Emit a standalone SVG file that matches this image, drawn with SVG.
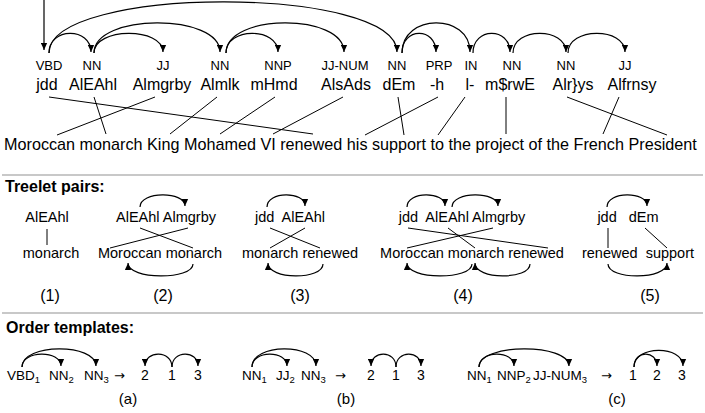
<svg xmlns="http://www.w3.org/2000/svg" width="705" height="413" viewBox="0 0 705 413">
<defs>
<style>
text{font-family:"Liberation Sans",Arial,Helvetica,sans-serif;fill:#000}
.tag{font-size:13px;text-anchor:middle}
.w{font-size:16px;text-anchor:middle}
.sent{font-size:16.2px}
.hd{font-size:16px;font-weight:bold}
.tw{font-size:14.5px;text-anchor:middle}
.lb{font-size:16px;text-anchor:middle}
.tp{font-size:13.5px}
.sb{font-size:9.5px}
.ar{font-family:"DejaVu Sans",sans-serif;font-size:13px}
.num{font-size:14px;text-anchor:middle}
.lbs{font-size:15px;text-anchor:middle}
.arc{fill:none;stroke:#000;stroke-width:1.2;marker-end:url(#ah)}
.ln{fill:none;stroke:#000;stroke-width:1}
.sep{stroke:#c8c8c8;stroke-width:2}
</style>
<marker id="ah" viewBox="0 0 10 10" refX="10" refY="5" markerWidth="8" markerHeight="7" orient="auto" markerUnits="userSpaceOnUse">
<path d="M0,0.5 L10,5 L0,9.5 z" fill="#000"/>
</marker>
</defs>
<rect width="705" height="413" fill="#fff"/>

<g id="tokens">
<g id="w-jdd"><text class="tag" x="49" y="70">VBD</text><text class="w" x="47" y="90">jdd</text></g>
<g id="w-AlEAhl"><text class="tag" x="92" y="70">NN</text><text class="w" x="93" y="90">AlEAhl</text></g>
<g id="w-Almgrby"><text class="tag" x="163" y="70">JJ</text><text class="w" x="162" y="90">Almgrby</text></g>
<g id="w-Almlk"><text class="tag" x="220" y="70">NN</text><text class="w" x="220" y="90">Almlk</text></g>
<g id="w-mHmd"><text class="tag" x="278" y="70">NNP</text><text class="w" x="274" y="90">mHmd</text></g>
<g id="w-AlsAds"><text class="tag" x="345" y="70">JJ-NUM</text><text class="w" x="346" y="90">AlsAds</text></g>
<g id="w-dEm"><text class="tag" x="397" y="70">NN</text><text class="w" x="399" y="90">dEm</text></g>
<g id="w-h"><text class="tag" x="439" y="70">PRP</text><text class="w" x="437" y="90">-h</text></g>
<g id="w-l"><text class="tag" x="471" y="70">IN</text><text class="w" x="470" y="90">l-</text></g>
<g id="w-mrwE"><text class="tag" x="512" y="70">NN</text><text class="w" x="510" y="90">m$rwE</text></g>
<g id="w-Alrys"><text class="tag" x="566" y="70">NN</text><text class="w" x="573" y="90">Alr}ys</text></g>
<g id="w-Alfrnsy"><text class="tag" x="625" y="70">JJ</text><text class="w" x="632" y="90">Alfrnsy</text></g>
</g>

<g id="sentence"><text class="sent" x="4" y="150">Moroccan monarch King Mohamed VI renewed his support to the project of the French President</text></g>

<line class="sep" x1="2" y1="175" x2="703" y2="175"/>
<g id="hd-treelet"><text class="hd" x="5" y="192">Treelet pairs:</text></g>

<g id="treelet-1"><text class="tw" x="47" y="222">AlEAhl</text><text class="tw" x="51" y="258">monarch</text><text class="lb" x="50" y="301">(1)</text></g>
<g id="treelet-2"><text class="tw" x="166" y="222">AlEAhl Almgrby</text><text class="tw" x="160" y="258">Moroccan monarch</text><text class="lb" x="163" y="301">(2)</text></g>
<g id="treelet-3"><text class="tw" x="290" y="222" xml:space="preserve">jdd  AlEAhl</text><text class="tw" x="300" y="258">monarch renewed</text><text class="lb" x="300" y="301">(3)</text></g>
<g id="treelet-4"><text class="tw" x="462" y="222" xml:space="preserve">jdd  AlEAhl Almgrby</text><text class="tw" x="472" y="258">Moroccan monarch renewed</text><text class="lb" x="463" y="301">(4)</text></g>
<g id="treelet-5"><text class="tw" x="628" y="222" xml:space="preserve">jdd   dEm</text><text class="tw" x="638" y="258" xml:space="preserve">renewed  support</text><text class="lb" x="650" y="301">(5)</text></g>

<line class="sep" x1="2" y1="313" x2="703" y2="313"/>
<g id="hd-order"><text class="hd" x="6" y="333">Order templates:</text></g>

<g id="template-a">
<text class="tp" y="380"><tspan x="7">VBD</tspan><tspan class="sb" dy="3">1</tspan><tspan x="49" dy="-3">NN</tspan><tspan class="sb" dy="3">2</tspan><tspan x="84" dy="-3">NN</tspan><tspan class="sb" dy="3">3</tspan></text>
<text class="ar" x="114" y="380">→</text>
<text class="num" x="145" y="380">2</text><text class="num" x="172" y="380">1</text><text class="num" x="198" y="380">3</text>
<text class="lbs" x="128" y="404">(a)</text>
</g>
<g id="template-b">
<text class="tp" y="380"><tspan x="242">NN</tspan><tspan class="sb" dy="3">1</tspan><tspan x="276" dy="-3">JJ</tspan><tspan class="sb" dy="3">2</tspan><tspan x="301" dy="-3">NN</tspan><tspan class="sb" dy="3">3</tspan></text>
<text class="ar" x="335" y="380">→</text>
<text class="num" x="371" y="380">2</text><text class="num" x="396" y="380">1</text><text class="num" x="421" y="380">3</text>
<text class="lbs" x="346" y="404">(b)</text>
</g>
<g id="template-c">
<text class="tp" y="380"><tspan x="467">NN</tspan><tspan class="sb" dy="3">1</tspan><tspan x="497" dy="-3">NNP</tspan><tspan class="sb" dy="3">2</tspan><tspan x="533" dy="-3">JJ-NUM</tspan><tspan class="sb" dy="3">3</tspan></text>
<text class="ar" x="601" y="380">→</text>
<text class="num" x="633" y="380">1</text><text class="num" x="657" y="380">2</text><text class="num" x="682" y="380">3</text>
<text class="lbs" x="617" y="404">(c)</text>
</g>

<g id="connectors">
<path class="arc" d="M44,0 L44,50"/>
<path class="arc" d="M49,53 C49,27 91,27 91,52"/>
<path class="arc" d="M49,53 C49,-15 397,-15 397,52"/>
<path class="arc" d="M94,53 C94,27 163,27 163,52"/>
<path class="arc" d="M94,53 C94,13 220,13 220,52"/>
<path class="arc" d="M226,53 C226,27 278,27 278,52"/>
<path class="arc" d="M226,53 C226,13 344,13 344,52"/>
<path class="arc" d="M402,53 C402,27 436,27 436,52"/>
<path class="arc" d="M402,53 C402,13 470,13 470,52"/>
<path class="arc" d="M473,53 C473,27 510,27 510,52"/>
<path class="arc" d="M513,53 C513,27 566,27 566,52"/>
<path class="arc" d="M568,53 C568,27 625,27 625,52"/>
<line class="ln" x1="49" y1="97" x2="313" y2="134"/>
<line class="ln" x1="94" y1="97" x2="106" y2="134"/>
<line class="ln" x1="155" y1="97" x2="57" y2="135"/>
<line class="ln" x1="217" y1="97" x2="170" y2="134"/>
<line class="ln" x1="275" y1="97" x2="220" y2="134"/>
<line class="ln" x1="343" y1="97" x2="273" y2="134"/>
<line class="ln" x1="398" y1="97" x2="404" y2="135"/>
<line class="ln" x1="438" y1="97" x2="365" y2="135"/>
<line class="ln" x1="465" y1="97" x2="438" y2="135"/>
<line class="ln" x1="506" y1="97" x2="506" y2="134"/>
<line class="ln" x1="567" y1="97" x2="667" y2="135"/>
<line class="ln" x1="619" y1="97" x2="603" y2="134"/>
<line class="ln" x1="47" y1="229" x2="47" y2="245"/>
<path class="arc" d="M140,207 C140,191 185,191 185,206"/>
<line class="ln" x1="140" y1="228" x2="193" y2="248"/>
<line class="ln" x1="188" y1="228" x2="110" y2="248"/>
<path class="arc" d="M193,264 C193,280 128,280 128,263"/>
<path class="arc" d="M267,207 C267,191 305,191 305,206"/>
<line class="ln" x1="270" y1="228" x2="320" y2="248"/>
<line class="ln" x1="305" y1="228" x2="270" y2="248"/>
<path class="arc" d="M323,264 C323,280 268,280 268,263"/>
<path class="arc" d="M407,207 C407,191 445,191 445,206"/>
<path class="arc" d="M452,207 C452,191 498,191 498,206"/>
<line class="ln" x1="408" y1="228" x2="548" y2="248"/>
<line class="ln" x1="448" y1="228" x2="475" y2="248"/>
<line class="ln" x1="493" y1="228" x2="407" y2="248"/>
<path class="arc" d="M472,264 C472,280 407,280 407,263"/>
<path class="arc" d="M530,264 C530,280 475,280 475,263"/>
<path class="arc" d="M607,207 C607,191 647,191 647,206"/>
<line class="ln" x1="608" y1="228" x2="608" y2="248"/>
<line class="ln" x1="645" y1="228" x2="667" y2="248"/>
<path class="arc" d="M608,264 C608,280 667,280 667,263"/>
<path class="arc" d="M22,367 C22,350 61,350 61,366"/>
<path class="arc" d="M22,367 C22,343 96,343 96,366"/>
<path class="arc" d="M172,367 C172,350 145,350 145,366"/>
<path class="arc" d="M172,367 C172,350 198,350 198,366"/>
<path class="arc" d="M252,367 C252,350 287,350 287,366"/>
<path class="arc" d="M252,367 C252,343 316,343 316,366"/>
<path class="arc" d="M396,367 C396,350 371,350 371,366"/>
<path class="arc" d="M396,367 C396,350 421,350 421,366"/>
<path class="arc" d="M479,367 C479,350 514,350 514,366"/>
<path class="arc" d="M479,367 C479,343 569,343 569,366"/>
<path class="arc" d="M634,367 C634,350 657,350 657,366"/>
<path class="arc" d="M634,367 C634,345 683,345 683,366"/>
</g>
</svg>
